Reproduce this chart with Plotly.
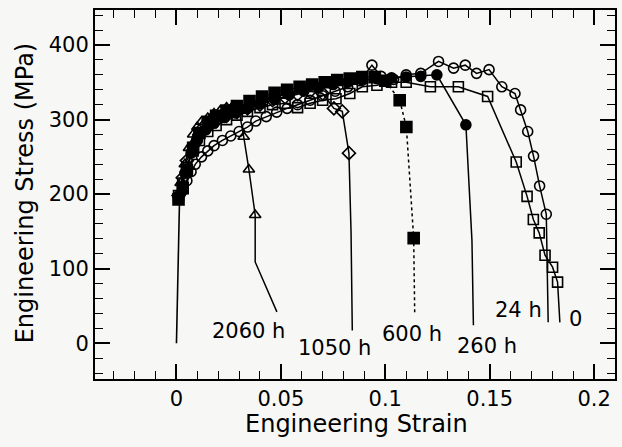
import plotly.graph_objects as go

# ---------------- data ----------------
elastic_x = [0.0, 0.0015]
elastic_y = [0, 195]

# 2060 h : open triangles
h2060_x = [0.001, 0.002, 0.004, 0.006, 0.008, 0.010, 0.012, 0.015, 0.018, 0.021, 0.024, 0.027, 0.030, 0.0322, 0.0347, 0.0377]
h2060_y = [200, 215, 240, 262, 280, 290, 297, 302, 308, 312, 316, 318, 312, 277, 233, 172]
h2060_tail_x = [0.0377, 0.0377, 0.0481]
h2060_tail_y = [138, 109, 42]

# 1050 h : open diamonds
h1050_x = [0.001, 0.003, 0.005, 0.008, 0.011, 0.015, 0.019, 0.024, 0.029, 0.034, 0.040, 0.046, 0.052, 0.058, 0.064, 0.070, 0.0754, 0.0794, 0.0826]
h1050_y = [198, 222, 245, 265, 280, 290, 298, 305, 310, 315, 320, 326, 330, 334, 338, 335, 315, 311, 255]
h1050_tail_x = [0.0836, 0.0842]
h1050_tail_y = [150, 17]

# 600 h : filled squares (dotted line)
h600_x = [0.001, 0.003, 0.005, 0.008, 0.011, 0.015, 0.019, 0.024, 0.029, 0.035, 0.041, 0.047, 0.053, 0.059, 0.065, 0.071, 0.077, 0.083, 0.089, 0.095, 0.100, 0.1069, 0.1101, 0.1136]
h600_y = [193, 208, 232, 262, 282, 297, 305, 312, 318, 325, 331, 336, 340, 344, 347, 350, 353, 355, 357, 357, 352, 326, 290, 141]
h600_tail_x = [0.1141]
h600_tail_y = [38]

# 260 h : filled circles
h260_x = [0.001, 0.004, 0.007, 0.010, 0.014, 0.018, 0.023, 0.028, 0.034, 0.040, 0.047, 0.054, 0.061, 0.068, 0.075, 0.082, 0.089, 0.096, 0.103, 0.110, 0.117, 0.1247, 0.1386]
h260_y = [196, 228, 255, 272, 286, 295, 303, 309, 315, 321, 327, 333, 338, 343, 347, 350, 353, 355, 356, 357, 358, 360, 293]
h260_tail_x = [0.1399, 0.1415, 0.1422]
h260_tail_y = [228, 138, 24]

# curve labelled "0" : open squares
h0_x = [0.001, 0.003, 0.005, 0.008, 0.011, 0.015, 0.019, 0.024, 0.029, 0.034, 0.040, 0.046, 0.052, 0.058, 0.064, 0.070, 0.0764, 0.083, 0.089, 0.096, 0.103, 0.110, 0.1216, 0.135, 0.149, 0.1627, 0.1679, 0.1709, 0.1737, 0.1765, 0.1801, 0.1825]
h0_y = [198, 215, 236, 258, 272, 284, 292, 300, 306, 311, 316, 320, 322, 316, 322, 326, 328, 335, 344, 346, 350, 350, 344, 344, 331, 243, 197, 166, 148, 118, 102, 82]
h0_tail_x = [0.1836]
h0_tail_y = [28]

# curve labelled "24 h" : open circles
h24_x = [0.001, 0.003, 0.005, 0.007, 0.009, 0.012, 0.015, 0.018, 0.022, 0.026, 0.030, 0.034, 0.038, 0.043, 0.048, 0.053, 0.058, 0.064, 0.070, 0.076, 0.082, 0.088, 0.0936, 0.098, 0.104, 0.110, 0.117, 0.1255, 0.1327, 0.1383, 0.1437, 0.1497, 0.1558, 0.1621, 0.1648, 0.1682, 0.1710, 0.1739, 0.1771]
h24_y = [195, 205, 218, 230, 240, 250, 258, 265, 272, 278, 284, 290, 298, 304, 310, 315, 320, 326, 332, 338, 344, 352, 373, 358, 354, 360, 362, 378, 369, 373, 362, 367, 344, 335, 313, 284, 251, 211, 173]
h24_tail_x = [0.178]
h24_tail_y = [28]

label_text = ["2060 h", "1050 h", "600 h", "260 h", "24 h", "0"]
label_x = [0.0345, 0.0755, 0.1130, 0.1485, 0.1638, 0.1910]
label_y = [16, -7, 13, -4, 44, 32]

x_ticks = [0, 0.05, 0.1, 0.15, 0.2]
y_ticks = [0, 100, 200, 300, 400]

# ---------------- figure ----------------
FONT = "DejaVu Sans"
fig = go.Figure()

fig.add_trace(go.Scatter(x=elastic_x, y=elastic_y, mode="lines",
                         line=dict(color="black", width=1.6), showlegend=False))

series = [
    (h24_x, h24_y, h24_tail_x, h24_tail_y, "circle-open", 10, "solid"),
    (h0_x, h0_y, h0_tail_x, h0_tail_y, "square-open", 10, "solid"),
    (h260_x, h260_y, h260_tail_x, h260_tail_y, "circle", 10, "solid"),
    (h600_x, h600_y, h600_tail_x, h600_tail_y, "square", 11, "dot"),
    (h1050_x, h1050_y, h1050_tail_x, h1050_tail_y, "diamond-open", 10, "solid"),
    (h2060_x, h2060_y, h2060_tail_x, h2060_tail_y, "triangle-up-open", 10, "solid"),
]
for sx, sy, tx, ty, sym, size, dash in series:
    fig.add_trace(go.Scatter(x=list(sx) + list(tx), y=list(sy) + list(ty), mode="lines",
                             line=dict(color="black", width=1.5, dash=dash),
                             showlegend=False, hoverinfo="skip"))
    fig.add_trace(go.Scatter(x=sx, y=sy, mode="markers",
                             marker=dict(symbol=sym, size=size, color="black",
                                         line=dict(color="black", width=1.6)),
                             showlegend=False))

for t, lx, ly in zip(label_text, label_x, label_y):
    fig.add_annotation(x=lx, y=ly, text=t, showarrow=False,
                       font=dict(family=FONT, size=21, color="black"),
                       xanchor="center", yanchor="middle")

fig.add_annotation(xref="paper", yref="paper", x=0.502, y=-0.122, text="Engineering Strain",
                   showarrow=False, font=dict(family=FONT, size=24, color="black"),
                   xanchor="center", yanchor="middle")
fig.add_annotation(xref="paper", yref="paper", x=-0.134, y=0.504, text="Engineering Stress (MPa)",
                   showarrow=False, textangle=-90, font=dict(family=FONT, size=24, color="black"),
                   xanchor="center", yanchor="middle")

axis_common = dict(showline=True, linewidth=2, linecolor="black", mirror="allticks",
                   ticks="inside", tickwidth=1.6, tickcolor="black", ticklen=15,
                   showgrid=False, zeroline=False,
                   tickfont=dict(family=FONT, size=21, color="black"))

fig.update_xaxes(range=[-0.039, 0.21], tickvals=x_ticks,
                 ticktext=[f"{v:g}" for v in x_ticks],
                 ticklabelstandoff=0,
                 minor=dict(tick0=0, dtick=0.01, ticks="inside", ticklen=8,
                            tickwidth=1.3, tickcolor="black", showgrid=False),
                 **axis_common)
fig.update_yaxes(range=[-48, 447], tickvals=y_ticks,
                 ticktext=[str(v) for v in y_ticks],
                 ticklabelstandoff=0,
                 minor=dict(tick0=0, dtick=20, ticks="inside", ticklen=8,
                            tickwidth=1.3, tickcolor="black", showgrid=False),
                 **axis_common)

fig.update_layout(width=622, height=447,
                  margin=dict(l=95, r=5, t=10, b=68),
                  paper_bgcolor="#f7f8f6", plot_bgcolor="#f7f8f6",
                  showlegend=False)

fig.write_html("out.html")
